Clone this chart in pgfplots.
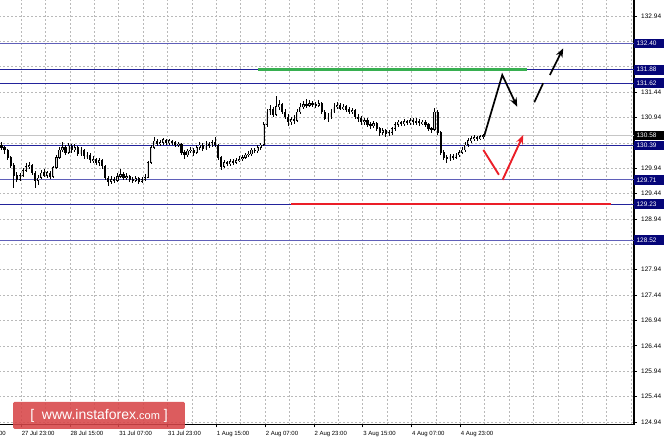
\documentclass[border=0pt]{standalone}
\usepackage{fontspec}
\setmainfont{Liberation Sans}
\usepackage{pgfplots}
\pgfplotsset{compat=1.18}
\usepackage{pgfplotstable}
\usetikzlibrary{arrows.meta}
\definecolor{navyline}{RGB}{35,35,155}
\definecolor{navylight}{RGB}{95,95,185}
\definecolor{navybox}{RGB}{5,5,120}
\definecolor{gridgray}{RGB}{185,185,185}
\definecolor{greenl}{RGB}{55,175,80}
\definecolor{redl}{RGB}{235,30,40}
\definecolor{wmred}{RGB}{215,70,72}

\pgfplotstableread{
t o h l c
0 130.40 130.45 130.30 130.35
1 130.35 130.38 130.22 130.30
2 130.30 130.32 130.10 130.15
3 130.15 130.18 129.95 130.00
4 130.00 130.04 129.55 129.80
5 129.80 129.86 129.66 129.72
6 129.72 129.84 129.68 129.80
7 129.80 129.95 129.76 129.90
8 129.90 130.05 129.86 129.98
9 129.98 130.06 129.92 130.00
10 130.00 130.03 129.80 129.85
11 129.85 129.88 129.55 129.70
12 129.70 129.80 129.60 129.75
13 129.75 129.90 129.72 129.85
14 129.85 129.92 129.76 129.80
15 129.80 129.88 129.74 129.85
16 129.85 129.88 129.72 129.78
17 129.78 129.98 129.75 129.95
18 129.95 130.20 129.92 130.15
19 130.15 130.36 130.12 130.30
20 130.30 130.45 130.26 130.35
21 130.35 130.40 130.20 130.25
22 130.25 130.44 130.22 130.38
23 130.38 130.42 130.24 130.30
24 130.30 130.42 130.26 130.35
25 130.35 130.38 130.18 130.22
26 130.22 130.35 130.18 130.30
27 130.30 130.32 130.12 130.18
28 130.18 130.25 130.12 130.20
29 130.20 130.24 130.05 130.10
30 130.10 130.18 130.05 130.12
31 130.12 130.15 130.00 130.05
32 130.05 130.14 129.98 130.10
33 130.10 130.12 129.92 129.98
34 129.98 130.00 129.70 129.75
35 129.75 129.78 129.58 129.68
36 129.68 129.78 129.62 129.72
37 129.72 129.76 129.64 129.70
38 129.70 129.84 129.66 129.78
39 129.78 129.92 129.74 129.82
40 129.82 129.86 129.70 129.75
41 129.75 129.84 129.70 129.78
42 129.78 129.80 129.66 129.72
43 129.72 129.76 129.64 129.70
44 129.70 129.78 129.66 129.74
45 129.74 129.76 129.63 129.68
46 129.68 129.76 129.64 129.72
47 129.72 129.82 129.68 129.76
48 129.76 130.08 129.74 130.05
49 130.05 130.40 130.02 130.35
50 130.35 130.55 130.32 130.48
51 130.48 130.52 130.38 130.42
52 130.42 130.50 130.38 130.45
53 130.45 130.54 130.40 130.50
54 130.50 130.52 130.40 130.44
55 130.44 130.52 130.40 130.48
56 130.48 130.50 130.40 130.45
57 130.45 130.48 130.36 130.40
58 130.40 130.46 130.36 130.42
59 130.42 130.44 130.20 130.25
60 130.25 130.30 130.12 130.20
61 130.20 130.32 130.16 130.28
62 130.28 130.36 130.24 130.30
63 130.30 130.34 130.18 130.25
64 130.25 130.40 130.22 130.35
65 130.35 130.46 130.30 130.40
66 130.40 130.44 130.28 130.32
67 130.32 130.48 130.30 130.42
68 130.42 130.46 130.34 130.38
69 130.38 130.50 130.35 130.45
70 130.45 130.56 130.36 130.40
71 130.40 130.42 130.10 130.15
72 130.15 130.18 129.90 129.98
73 129.98 130.10 129.95 130.05
74 130.05 130.08 129.98 130.02
75 130.02 130.12 129.98 130.08
76 130.08 130.12 130.00 130.05
77 130.05 130.14 130.02 130.10
78 130.10 130.18 130.06 130.12
79 130.12 130.20 130.08 130.15
80 130.15 130.24 130.12 130.20
81 130.20 130.28 130.16 130.22
82 130.22 130.34 130.18 130.30
83 130.30 130.34 130.24 130.28
84 130.28 130.40 130.24 130.35
85 130.35 130.44 130.30 130.40
86 130.40 130.85 130.38 130.80
87 130.80 131.10 130.76 131.05
88 131.05 131.18 130.98 131.10
89 131.10 131.14 130.95 131.00
90 131.00 131.36 130.96 131.15
91 131.15 131.28 131.08 131.20
92 131.20 131.22 131.00 131.05
93 131.05 131.10 130.90 130.95
94 130.95 131.00 130.78 130.85
95 130.85 130.95 130.80 130.90
96 130.90 130.98 130.82 130.88
97 130.88 131.10 130.85 131.05
98 131.05 131.22 131.00 131.15
99 131.15 131.26 131.10 131.20
100 131.20 131.30 131.12 131.18
101 131.18 131.28 131.14 131.22
102 131.22 131.26 131.15 131.20
103 131.20 131.24 131.12 131.18
104 131.18 131.28 131.14 131.22
105 131.22 131.24 131.00 131.05
106 131.05 131.08 130.88 130.92
107 130.92 131.02 130.86 130.95
108 130.95 131.10 130.92 131.05
109 131.05 131.22 131.02 131.15
110 131.15 131.24 131.10 131.18
111 131.18 131.22 131.08 131.12
112 131.12 131.20 131.08 131.15
113 131.15 131.18 131.05 131.10
114 131.10 131.14 131.00 131.05
115 131.05 131.12 131.00 131.08
116 131.08 131.10 130.90 130.95
117 130.95 131.00 130.86 130.92
118 130.92 130.96 130.80 130.85
119 130.85 130.94 130.80 130.88
120 130.88 130.92 130.76 130.80
121 130.80 130.86 130.72 130.78
122 130.78 130.88 130.74 130.82
123 130.82 130.85 130.68 130.72
124 130.72 130.76 130.58 130.65
125 130.65 130.74 130.60 130.68
126 130.68 130.72 130.56 130.62
127 130.62 130.70 130.58 130.64
128 130.64 130.76 130.60 130.72
129 130.72 130.86 130.68 130.80
130 130.80 130.90 130.76 130.85
131 130.85 130.88 130.78 130.82
132 130.82 130.92 130.78 130.86
133 130.86 130.90 130.80 130.84
134 130.84 130.92 130.80 130.88
135 130.88 130.94 130.80 130.85
136 130.85 130.92 130.80 130.86
137 130.86 130.90 130.78 130.83
138 130.83 130.90 130.80 130.85
139 130.85 130.88 130.76 130.80
140 130.80 130.84 130.68 130.72
141 130.72 130.76 130.64 130.70
142 130.70 131.12 130.68 131.05
143 131.05 131.08 130.60 130.65
144 130.65 130.68 130.20 130.25
145 130.25 130.30 130.10 130.15
146 130.15 130.20 130.05 130.12
147 130.12 130.22 130.08 130.18
148 130.18 130.22 130.10 130.15
149 130.15 130.24 130.12 130.20
150 130.20 130.30 130.16 130.25
151 130.25 130.36 130.22 130.30
152 130.30 130.46 130.26 130.40
153 130.40 130.54 130.36 130.48
154 130.48 130.58 130.44 130.52
155 130.52 130.60 130.48 130.55
156 130.55 130.58 130.48 130.52
157 130.52 130.60 130.50 130.56
158 130.56 130.62 130.52 130.58
}\candles

\begin{document}
\begin{tikzpicture}
\begin{axis}[
  name=ax, scale only axis, width=670.7pt, height=425pt,
  xmin=-12, xmax=207.9, ymin=124.88, ymax=133.255,
  axis x line*=bottom, axis y line*=right,
  axis line style={black, line width=1.1pt},
  clip mode=individual,
  /pgf/number format/assume math mode=true,
  xtick={-9.08,6.92,22.92,38.92,54.92,70.92,86.92,102.92,118.92,134.92,150.92},
  xticklabels={27 Jul 07:00,27 Jul 23:00,28 Jul 15:00,31 Jul 07:00,31 Jul 23:00,1 Aug 15:00,2 Aug 07:00,2 Aug 23:00,3 Aug 15:00,4 Aug 07:00,4 Aug 23:00},
  minor xtick={-1.08,14.92,30.92,46.92,62.92,78.92,94.92,110.92,126.92,142.92,158.92,166.92,174.92,182.92,190.92,198.92,206.92},
  ytick={124.94,125.44,125.94,126.44,126.94,127.44,127.94,128.44,128.94,129.44,129.94,130.44,130.94,131.44,131.94,132.44,132.94},
  yticklabels={124.94,125.44,125.94,126.44,126.94,127.44,127.94,,128.94,129.44,129.94,,130.94,131.44,,,132.94},
  yticklabel style={font=\fontsize{6.5}{7}\selectfont, anchor=west, xshift=1.2pt},
  xticklabel style={font=\fontsize{6}{7}\selectfont, anchor=north west, inner sep=0pt, yshift=-4pt, xshift=0.5pt},
  xmajorgrids, xminorgrids, ymajorgrids,
  major grid style={gridgray, dash pattern=on 2pt off 2pt, line width=0.5pt},
  minor grid style={gridgray, dash pattern=on 2pt off 2pt, line width=0.5pt},
  tick align=outside, major tick length=2.5pt, minor tick length=0pt,
  tick style={black, line width=0.6pt},
]
% level lines
\addplot[gray!45, line width=0.7pt] coordinates {(-12,130.58) (207.9,130.58)};
\addplot[navylight, line width=1pt] coordinates {(-12,132.40) (207.9,132.40)};
\addplot[navyline, line width=0.7pt] coordinates {(-12,131.88) (207.9,131.88)};
\addplot[navyline, line width=0.7pt] coordinates {(-12,131.62) (207.9,131.62)};
\addplot[navyline, line width=0.7pt] coordinates {(-12,130.39) (207.9,130.39)};
\addplot[navylight, line width=1pt] coordinates {(-12,129.71) (207.9,129.71)};
\addplot[navyline, line width=0.7pt] coordinates {(-12,129.23) (207.9,129.23)};
\addplot[navylight, line width=1pt] coordinates {(-12,128.52) (207.9,128.52)};
% candles: wicks
\addplot[draw=none, mark=none, error bars/.cd, y dir=both, y explicit, error mark=none,
  error bar style={draw=black, line width=0.6pt}]
  table[x expr=\thisrow{t}+0.5, y expr=(\thisrow{h}+\thisrow{l})/2, y error expr=(\thisrow{h}-\thisrow{l})/2] {\candles};
% bodies
\addplot[draw=none, mark=none, error bars/.cd, y dir=both, y explicit, error mark=none,
  error bar style={draw=black, line width=2.2pt}]
  table[x expr=\thisrow{t}+0.5, y expr=(\thisrow{o}+\thisrow{c})/2, y error expr={abs(\thisrow{c}-\thisrow{o})/2+0.006}] {\candles};
% bullish bodies hollow
\addplot[draw=none, mark=none, error bars/.cd, y dir=both, y explicit, error mark=none,
  error bar style={draw=white!85!black, line width=0.9pt}]
  table[x expr=\thisrow{t}+0.5, y expr=(\thisrow{o}+\thisrow{c})/2, y error expr={max((\thisrow{c}-\thisrow{o})/2-0.008,0)}] {\candles};
% support / resistance bars
\addplot[greenl, line width=2.6pt] coordinates {(84.6,131.88) (172.8,131.88)};
\addplot[redl, line width=2.2pt] coordinates {(95.4,129.23) (200.3,129.23)};
% arrows
\addplot[black, line width=1.7pt, line join=miter, -{Stealth[length=9pt,width=7pt]}] coordinates {(158.7,130.56) (164.7,131.777) (169.6,131.15)};
\addplot[black, line width=1.7pt] coordinates {(175.2,131.239) (178.1,131.614)};
\addplot[black, line width=1.7pt, -{Stealth[length=9pt,width=7pt]}] coordinates {(180.3,131.777) (184.7,132.303)};
\addplot[redl, line width=1.9pt] coordinates {(158.5,130.30) (163.6,129.81)};
\addplot[redl, line width=1.9pt, -{Stealth[length=9pt,width=7pt]}] coordinates {(164.8,129.71) (171.6,130.595)};
% anchors
\coordinate (BL) at (axis cs:0,124.88);
\coordinate (TR) at (axis cs:207.9,133.255);
\coordinate (L1) at (axis cs:207.9,132.40);
\coordinate (L2) at (axis cs:207.9,131.88);
\coordinate (L3) at (axis cs:207.9,131.62);
\coordinate (L4) at (axis cs:207.9,130.58);
\coordinate (L5) at (axis cs:207.9,130.39);
\coordinate (L6) at (axis cs:207.9,129.71);
\coordinate (L7) at (axis cs:207.9,129.23);
\coordinate (L8) at (axis cs:207.9,128.52);
\coordinate (WM) at (axis cs:32.46,125.068);
\end{axis}
\tikzset{pl/.style={anchor=west, fill=navybox, text=white, font=\fontsize{6.5}{7}\selectfont, inner xsep=2.4pt, inner ysep=0pt, minimum height=9.5pt, text width=25pt}}
\node[pl] at (L1) {132.40};
\node[pl] at (L2) {131.88};
\node[pl] at (L3) {131.62};
\node[pl, fill=black] at (L4) {130.58};
\node[pl] at (L5) {130.39};
\node[pl] at (L6) {129.71};
\node[pl] at (L7) {129.23};
\node[pl] at (L8) {128.52};
\node[fill=wmred, fill opacity=0.88, text opacity=1, text=white, rounded corners=1.5pt,
  minimum width=172pt, minimum height=27pt, inner sep=0pt] at (WM)
  {{\fontsize{14}{15}\selectfont[\ \ www.instaforex}{\fontsize{11}{12}\selectfont.com}{\fontsize{14}{15}\selectfont\ ]}};
\pgfresetboundingbox
\path[use as bounding box] ([yshift=-16pt]BL) rectangle ([xshift=30pt]TR);
\end{tikzpicture}
\end{document}
